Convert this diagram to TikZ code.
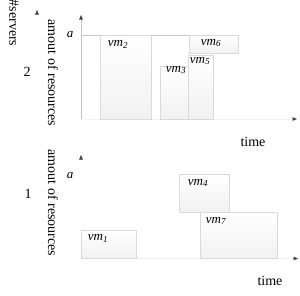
\documentclass[tikz,border=0pt]{standalone}
\usepackage{fontspec}
\setmainfont{Liberation Serif}
\usetikzlibrary{arrows.meta}
\begin{document}
\begin{tikzpicture}[x=1pt,y=-1pt,
 vmbox/.style={draw=gray!30, line width=0.6pt, top color=white, bottom color=gray!11},
 lbl/.style={font=\fontsize{13}{13}\selectfont\itshape, inner sep=0},
 txt/.style={font=\fontsize{14}{14}\selectfont, inner sep=0},
 tip/.style={-{Triangle[length=4.5pt,width=3.5pt,color=black!75]}},
 faint/.style={draw=gray!10, line width=0.5pt},
 axisline/.style={draw=gray!45, line width=0.6pt},
]
\useasboundingbox (0,0) rectangle (300,295);

% ----- labels on the left
\node[txt, rotate=-90] (servers) at (14,23) {\#servers};
\coordinate (sb) at (37,16);
\coordinate (st) at (37,10);
\draw[tip, draw=white] (sb) -- (st);
\node[txt] (two) at (27,72) {2};
\node[txt] (one) at (28,194) {1};

% ----- top panel
\node[txt, rotate=-90] (resT) at (53,73) {amout of resources};
\coordinate (oT) at (81,119);
\coordinate (yT) at (81,15);
\coordinate (xT) at (297,119);
\draw[axisline, tip] (oT) -- (yT);
\draw[faint, tip] (oT) -- (xT);
\coordinate (aL) at (81,35);
\coordinate (aR) at (238,35);
\draw[axisline] (aL) -- (aR);
\node[lbl] (aT) at (70,35) {a};

\shade[vmbox] (100,35) rectangle (151,119);
\shade[vmbox] (160,66) rectangle (188,119);
\shade[vmbox] (188,55) rectangle (213,119);
\shade[vmbox] (189,35) rectangle (238,53);
\node[lbl] (vm2) at (118,44) {vm\textsubscript{2}};
\node[lbl] (vm3) at (176,70) {vm\textsubscript{3}};
\node[lbl] (vm5) at (200,61) {vm\textsubscript{5}};
\node[lbl] (vm6) at (211,43) {vm\textsubscript{6}};
\node[txt] (timeT) at (253,142) {time};

% ----- bottom panel
\node[txt, rotate=-90] (resB) at (53,203) {amout of resources};
\coordinate (oB) at (81,258.5);
\coordinate (yB) at (81,155);
\coordinate (xB) at (298,258.5);
\draw[draw=white, tip] (oB) -- (yB);
\draw[faint, tip] (oB) -- (xB);
\node[lbl] (aB) at (70,176) {a};

\shade[vmbox] (81,230) rectangle (136,258);
\shade[vmbox] (179,174) rectangle (229,212);
\shade[vmbox] (200,212) rectangle (277,258);
\node[lbl] (vm1) at (98,238) {vm\textsubscript{1}};
\node[lbl] (vm4) at (198,183) {vm\textsubscript{4}};
\node[lbl] (vm7) at (216,221) {vm\textsubscript{7}};
\node[txt] (timeB) at (270,281) {time};
\end{tikzpicture}
\end{document}
